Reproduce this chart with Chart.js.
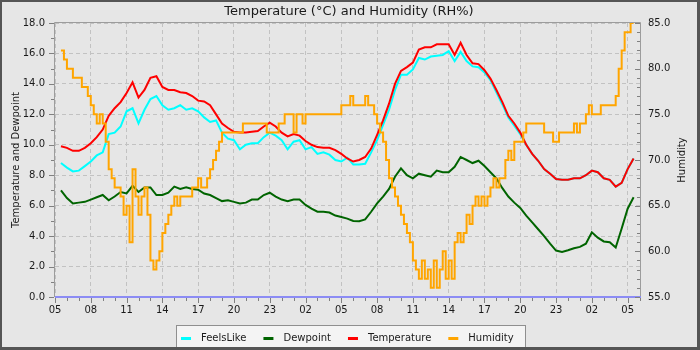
<!DOCTYPE html>
<html>
<head>
<meta charset="utf-8">
<title>Temperature and Humidity</title>
<script src="https://cdn.jsdelivr.net/npm/chart.js@4/dist/chart.umd.min.js"></script>
<style>
  html, body { margin: 0; padding: 0; background: #e6e6e6; }
  #wrap { width: 700px; height: 350px; }
</style>
</head>
<body>
<div id="wrap"><canvas id="chart" width="700" height="350"></canvas></div>
<script>
// Hour-of-day labels for the 3-hourly ticks (axis values are hours after 05:00)
const hourLabels = ['05','08','11','14','17','20','23','02','05','08','11','14','17','20','23','02','05'];

// Half-hourly readings, first sample at 05:30
const firstHour = 0.5;
const halfHourStep = 0.5;
const feelsLike = [
  8.8, 8.5, 8.25, 8.3, 8.6, 8.9, 9.3, 9.5, 10.7, 10.8,
  11.2, 12.2, 12.4, 11.4, 12.3, 13.0, 13.2, 12.6, 12.3, 12.4,
  12.6, 12.3, 12.4, 12.2, 11.8, 11.5, 11.6, 10.8, 10.4, 10.3,
  9.7, 10.0, 10.1, 10.1, 10.5, 10.8, 10.6, 10.3, 9.7, 10.2,
  10.3, 9.7, 9.85, 9.4, 9.5, 9.35, 9.0, 8.9, 9.15, 8.7,
  8.7, 8.75, 9.5, 10.3, 11.3, 12.3, 13.6, 14.6, 14.6, 14.95,
  15.7, 15.6, 15.8, 15.85, 15.9, 16.15, 15.5, 16.1, 15.5, 15.15,
  15.1, 14.75, 14.25, 13.45, 12.65, 11.8, 11.25, 10.7, 10.0, 9.4,
  8.95, 8.4, 8.1, 7.75, 7.7, 7.7, 7.8, 7.8, 8.0, 8.3,
  8.2, 7.8, 7.7, 7.25, 7.5, 8.4, 9.1
];
const dewpoint = [
  7.0, 6.5, 6.15, 6.2, 6.25, 6.4, 6.55, 6.7, 6.35, 6.6,
  6.9, 6.8, 7.3, 6.9, 7.2, 7.2, 6.7, 6.7, 6.85, 7.25,
  7.1, 7.2, 7.1, 7.05, 6.8, 6.7, 6.5, 6.3, 6.35, 6.25,
  6.15, 6.2, 6.4, 6.4, 6.7, 6.85, 6.6, 6.4, 6.3, 6.4,
  6.4, 6.05, 5.8, 5.6, 5.6, 5.55, 5.35, 5.25, 5.15, 5.0,
  4.98, 5.1, 5.6, 6.15, 6.6, 7.1, 7.9, 8.45, 8.0, 7.8,
  8.1, 8.0, 7.9, 8.3, 8.2, 8.2, 8.55, 9.2, 9.0, 8.8,
  8.95, 8.6, 8.2, 7.8, 7.15, 6.6, 6.2, 5.85, 5.35, 4.9,
  4.45, 4.0, 3.5, 3.05, 2.96, 3.07, 3.2, 3.29, 3.5, 4.25,
  3.9, 3.65, 3.6, 3.25, 4.5, 5.8, 6.55
];
const temperature = [
  9.9, 9.8, 9.6, 9.6, 9.8, 10.1, 10.5, 11.0, 11.9, 12.4,
  12.8, 13.4, 14.1, 13.1, 13.6, 14.4, 14.5, 13.8, 13.6, 13.6,
  13.45, 13.4, 13.2, 12.9, 12.85, 12.6, 12.0, 11.4, 11.1, 10.85,
  10.8, 10.8, 10.85, 10.9, 11.2, 11.45, 11.2, 10.8, 10.55, 10.7,
  10.6, 10.25, 10.0, 9.85, 9.8, 9.8, 9.65, 9.4, 9.1, 8.9,
  9.0, 9.2, 9.75, 10.65, 11.6, 12.7, 14.0, 14.85, 15.1, 15.4,
  16.25, 16.4, 16.4, 16.6, 16.6, 16.6, 15.9, 16.7, 15.9, 15.35,
  15.3, 14.9, 14.35, 13.6, 12.8, 11.9, 11.4, 10.8, 10.0, 9.4,
  8.95, 8.4, 8.1, 7.75, 7.7, 7.7, 7.8, 7.8, 8.0, 8.3,
  8.2, 7.8, 7.7, 7.25, 7.5, 8.4, 9.1
];

// Humidity is logged every 15 minutes, first sample at 05:30
const quarterHourStep = 0.25;
const humidity = [
  82, 81, 80, 80, 79, 79, 79, 78, 78, 77,
  76, 75, 74, 75, 74, 72, 69, 68, 67, 67,
  66, 64, 65, 61, 69, 66, 64, 66, 67, 64,
  59, 58, 59, 60, 62, 63, 64, 65, 66, 65,
  66, 66, 66, 66, 67, 67, 68, 67, 67, 68,
  69, 70, 71, 72, 73, 73, 73, 73, 73, 73,
  73, 74, 74, 74, 74, 74, 74, 74, 74, 73,
  73, 73, 73, 74, 74, 75, 75, 75, 73, 75,
  75, 74, 75, 75, 75, 75, 75, 75, 75, 75,
  75, 75, 75, 75, 76, 76, 76, 77, 76, 76,
  76, 76, 77, 76, 76, 75, 74, 73, 72, 70,
  68, 67, 66, 65, 64, 63, 62, 61, 59, 58,
  57, 59, 57, 58, 56, 59, 56, 58, 60, 57,
  59, 57, 61, 62, 61, 62, 64, 63, 65, 66,
  65, 66, 65, 66, 67, 68, 67, 68, 68, 70,
  71, 70, 72, 72, 72, 73, 74, 74, 74, 74,
  74, 74, 73, 73, 73, 72, 72, 73, 73, 73,
  73, 73, 74, 73, 74, 74, 75, 76, 75, 75,
  75, 76, 76, 76, 76, 76, 77, 80, 82, 84,
  84, 85, 85
];

const seriesNames = ['FeelsLike', 'Dewpoint', 'Temperature', 'Humidity'];
const seriesColors = ['#00ffff', '#006400', '#ff0000', '#ffa500'];

const toPoints = (values, step) => values.map((v, i) => ({ x: firstHour + i * step, y: v }));

const FONT = 'DejaVu Sans';
const BG = '#e6e6e6';

function drawOuterBorder(ctx, w, h) {
  ctx.fillStyle = '#555555';
  ctx.fillRect(0, 0, w, 2);
  ctx.fillRect(0, 0, 2, h);
  ctx.fillRect(w - 3, 0, 3, h);
  ctx.fillRect(0, h - 3, w, 3);
}

const decorations = {
  id: 'decorations',
  beforeDraw(chart) {
    const ctx = chart.ctx;
    ctx.save();
    ctx.fillStyle = BG;
    ctx.fillRect(0, 0, chart.width, chart.height);
    ctx.restore();
  },
  afterDatasetsDraw(chart) {
    const ctx = chart.ctx;
    const ca = chart.chartArea;
    const xs = chart.scales.x, yl = chart.scales.y, yr = chart.scales.y1;
    ctx.save();
    // plot frame
    ctx.strokeStyle = '#9c9c9c';
    ctx.lineWidth = 1;
    ctx.beginPath();
    ctx.moveTo(ca.left - 0.5, ca.bottom);
    ctx.lineTo(ca.left - 0.5, ca.top - 0.5);
    ctx.lineTo(ca.right - 0.5, ca.top - 0.5);
    ctx.lineTo(ca.right - 0.5, ca.bottom);
    ctx.stroke();
    // zero line along the bottom
    const y0 = yl.getPixelForValue(0);
    ctx.strokeStyle = '#8c8cf4';
    ctx.lineWidth = 2;
    ctx.beginPath();
    ctx.moveTo(ca.left, y0);
    ctx.lineTo(ca.right, y0);
    ctx.stroke();
    // tick marks: major + minor
    ctx.strokeStyle = '#808080';
    ctx.lineWidth = 1;
    ctx.beginPath();
    for (let h = 0; h <= 49; h++) {
      const px = Math.round(xs.getPixelForValue(h)) + 0.5;
      if (px > ca.right) break;
      const len = h % 3 === 0 ? 5 : 3;
      ctx.moveTo(px, ca.bottom + 1);
      ctx.lineTo(px, ca.bottom + 1 + len);
    }
    for (let v = 0; v <= 18; v++) {
      const py = Math.round(yl.getPixelForValue(v)) + 0.5;
      const len = v % 2 === 0 ? 5 : 3;
      ctx.moveTo(ca.left - 1 - len, py);
      ctx.lineTo(ca.left - 1, py);
    }
    for (let v = 55; v <= 85; v++) {
      const py = Math.round(yr.getPixelForValue(v)) + 0.5;
      const len = v % 5 === 0 ? 5 : 3;
      ctx.moveTo(ca.right - 1 - len, py);
      ctx.lineTo(ca.right - 1, py);
    }
    ctx.stroke();
    ctx.restore();
  },
  afterDraw(chart) {
    const ctx = chart.ctx;
    const ca = chart.chartArea;
    ctx.save();
    ctx.fillStyle = '#1a1a1a';
    // chart title
    ctx.font = '13px "' + FONT + '"';
    ctx.textAlign = 'center';
    ctx.textBaseline = 'alphabetic';
    ctx.fillText('Temperature (°C) and Humidity (RH%)', 349, 15);
    // axis titles
    ctx.font = '10px "' + FONT + '"';
    ctx.textBaseline = 'middle';
    const midY = (ca.top + ca.bottom) / 2;
    ctx.save();
    ctx.translate(16.5, midY);
    ctx.rotate(-Math.PI / 2);
    ctx.fillText('Temperature and Dewpoint', 0, 0);
    ctx.restore();
    ctx.save();
    ctx.translate(682, midY);
    ctx.rotate(-Math.PI / 2);
    ctx.fillText('Humidity', 0, 0);
    ctx.restore();
    // legend
    ctx.fillStyle = '#f4f4f4';
    ctx.fillRect(177, 326, 348, 24);
    ctx.strokeStyle = '#8f8f8f';
    ctx.lineWidth = 1;
    ctx.strokeRect(176.5, 325.5, 349, 30);
    ctx.textAlign = 'left';
    ctx.textBaseline = 'alphabetic';
    let lx = 181;
    chart.data.datasets.forEach((ds) => {
      ctx.fillStyle = ds.borderColor;
      ctx.fillRect(lx, 337, 10, 3);
      ctx.fillStyle = '#1a1a1a';
      const tx = lx + 20;
      ctx.fillText(ds.label, tx, 341);
      lx = tx + ctx.measureText(ds.label).width + 17;
    });
    drawOuterBorder(ctx, chart.width, chart.height);
    ctx.restore();
  }
};

const lineStyle = (i) => ({
  label: seriesNames[i],
  borderColor: seriesColors[i],
  backgroundColor: seriesColors[i],
  borderWidth: 2,
  pointRadius: 0,
  fill: false,
  tension: 0
});

new Chart(document.getElementById('chart'), {
  type: 'line',
  data: {
    datasets: [
      Object.assign(lineStyle(0), { data: toPoints(feelsLike, halfHourStep), yAxisID: 'y', order: 4 }),
      Object.assign(lineStyle(1), { data: toPoints(dewpoint, halfHourStep), yAxisID: 'y', order: 3 }),
      Object.assign(lineStyle(2), { data: toPoints(temperature, halfHourStep), yAxisID: 'y', order: 2 }),
      Object.assign(lineStyle(3), { data: toPoints(humidity, quarterHourStep), yAxisID: 'y1', order: 1, stepped: 'before' })
    ]
  },
  options: {
    responsive: false,
    animation: false,
    devicePixelRatio: 1,
    layout: { padding: { top: 23, left: 0, right: 0, bottom: 0 } },
    plugins: {
      legend: { display: false },
      title: { display: false },
      tooltip: { enabled: false }
    },
    scales: {
      x: {
        type: 'linear',
        position: 'bottom',
        min: 0,
        max: 49.12,
        afterFit: (s) => { s.height = 53; },
        ticks: {
          stepSize: 3,
          includeBounds: false,
          autoSkip: false,
          maxRotation: 0,
          padding: 7,
          color: '#1a1a1a',
          font: { family: FONT, size: 10 },
          callback: (v) => hourLabels[Math.round(v / 3)]
        },
        grid: { color: '#c2c2c2', lineWidth: 1, drawTicks: false },
        border: { display: false, dash: [4, 3] }
      },
      y: {
        position: 'left',
        min: 0,
        max: 18,
        afterFit: (s) => { s.width = 55; },
        ticks: {
          stepSize: 2,
          padding: 10,
          color: '#1a1a1a',
          font: { family: FONT, size: 10 },
          callback: (v) => v.toFixed(1)
        },
        grid: { color: '#c2c2c2', lineWidth: 1, drawTicks: false },
        border: { display: false, dash: [4, 3] }
      },
      y1: {
        position: 'right',
        min: 55,
        max: 85,
        afterFit: (s) => { s.width = 59; },
        ticks: {
          stepSize: 5,
          padding: 7,
          color: '#1a1a1a',
          font: { family: FONT, size: 10 },
          callback: (v) => v.toFixed(1)
        },
        grid: { drawOnChartArea: false, drawTicks: false },
        border: { display: false }
      }
    }
  },
  plugins: [decorations]
});
</script>
</body>
</html>
